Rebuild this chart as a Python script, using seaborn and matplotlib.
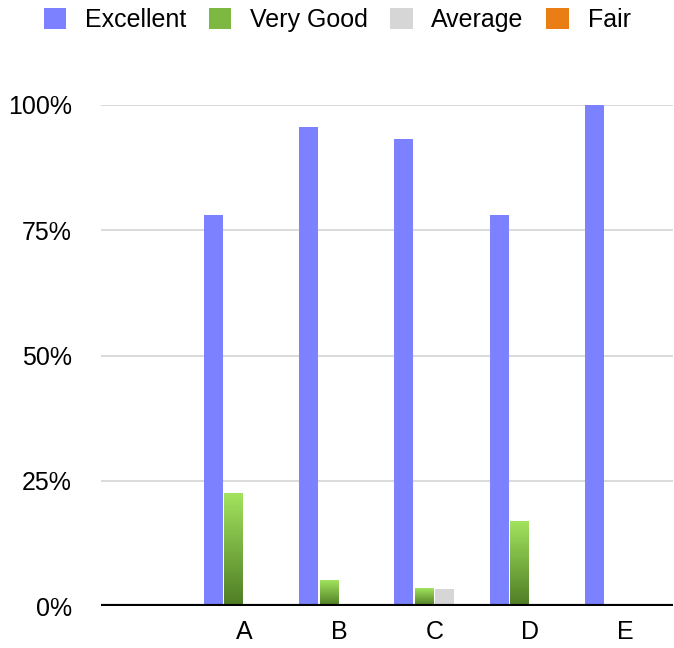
import numpy as np
import pandas as pd
import matplotlib
matplotlib.use("Agg")
import matplotlib.pyplot as plt
from matplotlib.patches import Patch
from matplotlib.colors import LinearSegmentedColormap
import seaborn as sns

# data
categories = ["", "A", "B", "C", "D", "E"]
ratings = ["Excellent", "Very Good", "Average", "Fair"]
excellent = [0, 78.0, 95.6, 93.3, 78.0, 100.0]
very_good = [0, 22.5, 5.0, 3.4, 16.8, 0]
average = [0, 0, 0, 3.4, 0, 0]
fair = [0, 0, 0, 0, 0, 0]
y_ticks = [0, 25, 50, 75, 100]

colors = {"Excellent": "#7B81FF", "Very Good": "#7DB843",
          "Average": "#D6D6D6", "Fair": "#EA7D14"}

df = pd.DataFrame({
    "category": categories * 4,
    "rating": np.repeat(ratings, len(categories)),
    "value": excellent + very_good + average + fair,
})

sns.set_style("white")
plt.rcParams["font.family"] = ["Liberation Sans", "DejaVu Sans"]
plt.rcParams["text.color"] = "black"
plt.rcParams["xtick.color"] = "black"
plt.rcParams["ytick.color"] = "black"

fig = plt.figure(figsize=(6.74, 6.48), dpi=100)
ax = fig.add_axes([101 / 674, 1 - 606 / 648, 572 / 674, 501 / 648])

sns.barplot(data=df, x="category", y="value", hue="rating", order=categories,
            hue_order=ratings, palette=colors, saturation=1, width=0.86, gap=0.08,
            edgecolor="none", linewidth=0, legend=False, ax=ax, zorder=3)

# green gradient on the "Very Good" bars
green = LinearSegmentedColormap.from_list("g", ["#4E7C24", "#A2E35E"])
grad = np.linspace(0, 1, 256).reshape(-1, 1)
for p in ax.containers[1]:
    h = p.get_height()
    if h > 0:
        x0 = p.get_x()
        ax.imshow(grad, extent=[x0, x0 + p.get_width(), 0, h], origin="lower",
                  aspect="auto", cmap=green, zorder=3)
        p.set_visible(False)

ax.set_xlim(-0.5, len(categories) - 0.5)
ax.set_ylim(0, 100)
ax.set_yticks(y_ticks)
ax.set_yticklabels([f"{t}%" for t in y_ticks])
for t in y_ticks[1:]:
    ax.axhline(t, color="#D4D4D4", lw=1.2, zorder=1)
ax.axhline(0, color="black", lw=3, zorder=4)
for s in ax.spines.values():
    s.set_visible(False)
ax.tick_params(axis="y", length=0, pad=21, labelsize=18)
ax.tick_params(axis="x", length=0, pad=10, labelsize=18)
ax.set_xlabel("")
ax.set_ylabel("")

handles = [Patch(facecolor=colors[r], edgecolor="none") for r in ratings]
fig.legend(handles, ratings, loc="center", bbox_to_anchor=(0.5, 1 - 20 / 648),
           ncol=4, frameon=False, fontsize=18, handlelength=0.9,
           handleheight=0.9, handletextpad=0.75, columnspacing=0.9)

fig.savefig("out.png", dpi=100)
